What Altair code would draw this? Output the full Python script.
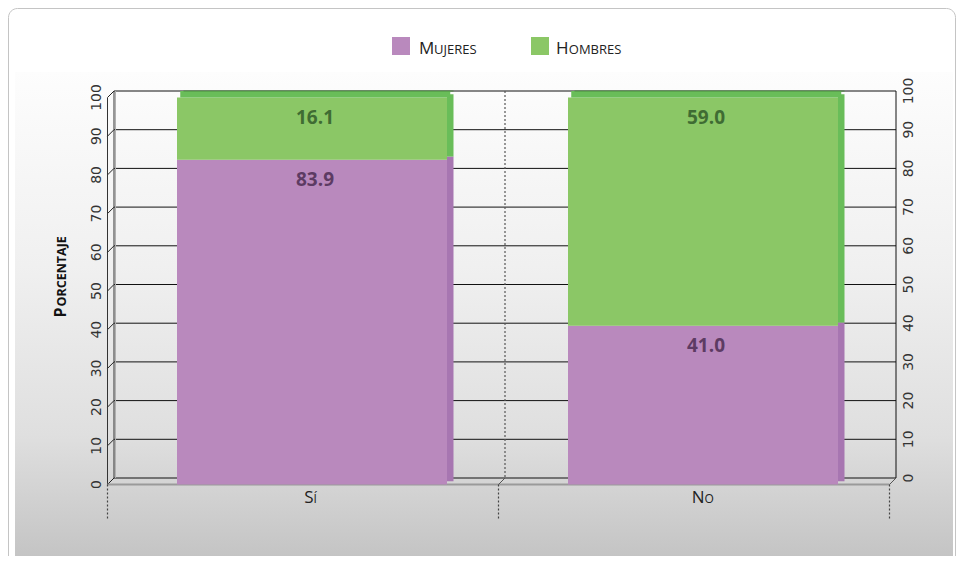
import altair as alt
import pandas as pd

# ---- data ----
categorias = ["Sí", "No"]
series = ["Mujeres", "Hombres"]
mujeres = [83.9, 41.0]
hombres = [16.1, 59.0]
ticks = [0, 10, 20, 30, 40, 50, 60, 70, 80, 90, 100]

# ---- styles ----
front_col = {"Mujeres": "#b989bd", "Hombres": "#8bc766"}
side_col = {"Mujeres": "#a776b1", "Hombres": "#69bd59"}
text_col = {"Mujeres": "#5d3b63", "Hombres": "#3f6c33"}

W, H = 782, 387
D = 6.5
BAR_W = 270
FONT = "Open Sans"
NUMFONT = "DejaVu Sans"

rows = []
for i, c in enumerate(categorias):
    rows.append({"categoria": c, "serie": series[0], "valor": mujeres[i], "orden": 0})
    rows.append({"categoria": c, "serie": series[1], "valor": hombres[i], "orden": 1})
df = pd.DataFrame(rows)
tdf = pd.DataFrame({"v": ticks})
one = pd.DataFrame({"a": [0]})
ext = pd.DataFrame({"lo": [ticks[0]], "hi": [ticks[-1]]})


def sel(d):
    return "datum.serie === 'Mujeres' ? '%s' : '%s'" % (d["Mujeres"], d["Hombres"])


yscale = alt.Scale(domain=[0, 100], nice=False, zero=True)
xscale = alt.Scale(domain=categorias, paddingInner=0, paddingOuter=0)
X = alt.X("categoria:N", scale=xscale, axis=None, sort=categorias)
YV = alt.Y("v:Q", scale=yscale, axis=None)
YHI = alt.Y("hi:Q", scale=yscale, axis=None)
YLO = alt.Y("lo:Q", scale=yscale, axis=None)

# ---- decoration: frame + gradient ----
frame = alt.Chart(one).mark_rect(fill="white", stroke="#c4c4c4", strokeWidth=1, cornerRadius=9).encode(
    x=alt.value(-105.5), x2=alt.value(841.5), y=alt.value(-82.5), y2=alt.value(480)
)
grad = alt.Gradient(
    gradient="linear",
    stops=[
        alt.GradientStop(color="#fdfdfd", offset=0),
        alt.GradientStop(color="#f0f0f0", offset=0.4),
        alt.GradientStop(color="#dfdfdf", offset=0.75),
        alt.GradientStop(color="#c4c4c4", offset=1),
    ],
    x1=0, x2=0, y1=0, y2=1,
)
bg = alt.Chart(one).mark_rect(fill=grad).encode(
    x=alt.value(-99), x2=alt.value(839), y=alt.value(-19), y2=alt.value(466)
)

# ---- walls, grid ----
grid = alt.Chart(tdf).mark_rule(color="#111111", strokeWidth=1).encode(
    y=YV, x=alt.value(0), x2=alt.value(W)
)
diag = alt.Chart(tdf).mark_rule(color="#222222", strokeWidth=1, yOffset=D).encode(
    y=YV, y2=alt.Y2("v:Q"), x=alt.value(-D), x2=alt.value(0)
)
left_front = alt.Chart(ext).mark_rule(color="#333333", strokeWidth=1, yOffset=D, y2Offset=D).encode(
    y=YHI, y2=alt.Y2("lo:Q"), x=alt.value(-D)
)
left_back = alt.Chart(ext).mark_rule(color="#333333", strokeWidth=1).encode(
    y=YHI, y2=alt.Y2("lo:Q"), x=alt.value(0)
)
left_back2 = alt.Chart(ext).mark_rule(color="#b0b0b0", strokeWidth=1).encode(
    y=YHI, y2=alt.Y2("lo:Q"), x=alt.value(1.5)
)
right_axis = alt.Chart(ext).mark_rule(color="#111111", strokeWidth=1).encode(
    y=YHI, y2=alt.Y2("lo:Q"), x=alt.value(W)
)
mid_dash = alt.Chart(ext).mark_rule(color="#555555", strokeWidth=1.2, strokeDash=[2, 2]).encode(
    y=YHI, y2=alt.Y2("lo:Q"), x=alt.value(W / 2)
)
floor_edge = alt.Chart(ext).mark_rule(color="#9a9a9a", strokeWidth=2, yOffset=D).encode(
    y=YLO, x=alt.value(-D), x2=alt.value(W - D)
)
floor_diag_r = alt.Chart(ext).mark_rule(color="#555555", strokeWidth=1, yOffset=D).encode(
    y=YLO, y2=alt.Y2("lo:Q"), x=alt.value(W - D), x2=alt.value(W)
)
floor_diag_m = alt.Chart(ext).mark_rule(color="#555555", strokeWidth=1, yOffset=D).encode(
    y=YLO, y2=alt.Y2("lo:Q"), x=alt.value(W / 2 - D), x2=alt.value(W / 2)
)
bottom_ticks = [
    alt.Chart(one).mark_rule(color="#444444", strokeWidth=1.2, strokeDash=[2, 2]).encode(
        x=alt.value(xx), y=alt.value(H + D), y2=alt.value(H + D + 34)
    )
    for xx in (-D, W / 2 - D, W - D)
]

# ---- tick labels ----
left_lbl = alt.Chart(tdf).mark_text(angle=270, font=NUMFONT, fontSize=14, color="#333333",
                                    align="center", baseline="middle", yOffset=D).encode(
    y=YV, x=alt.value(-17), text=alt.Text("v:Q")
)
right_lbl = alt.Chart(tdf).mark_text(angle=270, font=NUMFONT, fontSize=14, color="#333333",
                                     align="center", baseline="middle").encode(
    y=YV, x=alt.value(795), text=alt.Text("v:Q")
)

# ---- y title (small caps) ----
title_a = alt.Chart(one).mark_text(text="P", angle=270, font=FONT, fontWeight="bold", fontSize=16,
                                   align="left", baseline="alphabetic", color="#111111").encode(
    x=alt.value(-48), y=alt.value(226.5)
)
title_b = alt.Chart(one).mark_text(text="ORCENTAJE", angle=270, font=FONT, fontWeight="bold", fontSize=12.5,
                                   align="left", baseline="alphabetic", color="#111111").encode(
    x=alt.value(-48), y=alt.value(215.5)
)

# ---- bars ----
stacked = alt.Chart(df).transform_stack(
    stack="valor", groupby=["categoria"], as_=["y0", "y1"],
    sort=[alt.SortField("orden", order="ascending")],
).transform_calculate(
    fillc=sel(front_col), sidec=sel(side_col), textc=sel(text_col)
)

front = stacked.mark_bar(width=BAR_W, xOffset=2.5, yOffset=D, y2Offset=D).encode(
    x=X, y=alt.Y("y1:Q", scale=yscale, axis=None), y2="y0:Q",
    fill=alt.Fill("fillc:N", scale=None),
)
side = stacked.mark_bar(width=D, xOffset=2.5 + BAR_W / 2 + D / 2, yOffset=D / 2, y2Offset=D / 2).encode(
    x=X, y=alt.Y("y1:Q", scale=yscale, axis=None), y2="y0:Q",
    fill=alt.Fill("sidec:N", scale=None),
)
top = stacked.transform_filter("datum.serie === 'Hombres'").mark_bar(
    width=BAR_W, xOffset=2.5 + D / 2, yOffset=0, y2Offset=D
).encode(
    x=X, y=alt.Y("y1:Q", scale=yscale, axis=None), y2=alt.Y2("y1:Q"),
    fill=alt.Fill("sidec:N", scale=None),
)
top_edge = stacked.transform_filter("datum.serie === 'Hombres'").mark_bar(
    width=BAR_W, xOffset=2.5 + D, yOffset=-0.6, y2Offset=0.6, color="#4d8a42"
).encode(
    x=X, y=alt.Y("y1:Q", scale=yscale, axis=None), y2=alt.Y2("y1:Q")
)
labels = stacked.mark_text(font=FONT, fontWeight="bold", fontSize=19, baseline="middle",
                           align="center", yOffset=27, xOffset=5.5).encode(
    x=X, y=alt.Y("y1:Q", scale=yscale, axis=None),
    text=alt.Text("valor:Q", format=".1f"),
    color=alt.Color("textc:N", scale=None),
)

# ---- category labels (small caps) ----
cats = alt.Chart(pd.DataFrame({"categoria": categorias})).transform_calculate(
    first="substring(datum.categoria, 0, 1)", rest="upper(substring(datum.categoria, 1))"
)
cat_a = cats.mark_text(font=FONT, fontSize=17, align="right", baseline="alphabetic",
                       color="#222222", xOffset=4).encode(
    x=X, y=alt.value(412.3), text="first:N"
)
cat_b = cats.mark_text(font=FONT, fontSize=12, align="left", baseline="alphabetic",
                       color="#222222", xOffset=4).encode(
    x=X, y=alt.value(412.3), text="rest:N"
)

# ---- legend (manual, small caps) ----
leg = []
for name, sx, tx, wfirst in ((series[0], 278, 305, 15.0), (series[1], 417, 442, 12.8)):
    leg.append(alt.Chart(one).mark_rect(fill=front_col[name]).encode(
        x=alt.value(sx), x2=alt.value(sx + 18), y=alt.value(-54), y2=alt.value(-36)))
    leg.append(alt.Chart(one).mark_text(text=name[0], font=FONT, fontSize=17, align="left",
                                        baseline="alphabetic", color="#222222").encode(
        x=alt.value(tx), y=alt.value(-37.5)))
    leg.append(alt.Chart(one).mark_text(text=name[1:].upper(), font=FONT, fontSize=13, align="left",
                                        baseline="alphabetic", color="#222222").encode(
        x=alt.value(tx + wfirst), y=alt.value(-37.5)))

chart = alt.layer(
    frame, bg, grid, diag, left_front, left_back, left_back2, right_axis, mid_dash,
    floor_edge, floor_diag_r, floor_diag_m, *bottom_ticks,
    left_lbl, right_lbl, title_a, title_b,
    side, front, top, top_edge, labels, cat_a, cat_b, *leg,
).properties(
    width=W, height=H,
    padding={"left": 106, "top": 83, "right": 60, "bottom": 78},
    autosize=alt.AutoSizeParams(type="none"),
    background="white",
).configure_view(stroke=None)

chart.save("out.html", embed_options={"renderer": "svg", "actions": False})
